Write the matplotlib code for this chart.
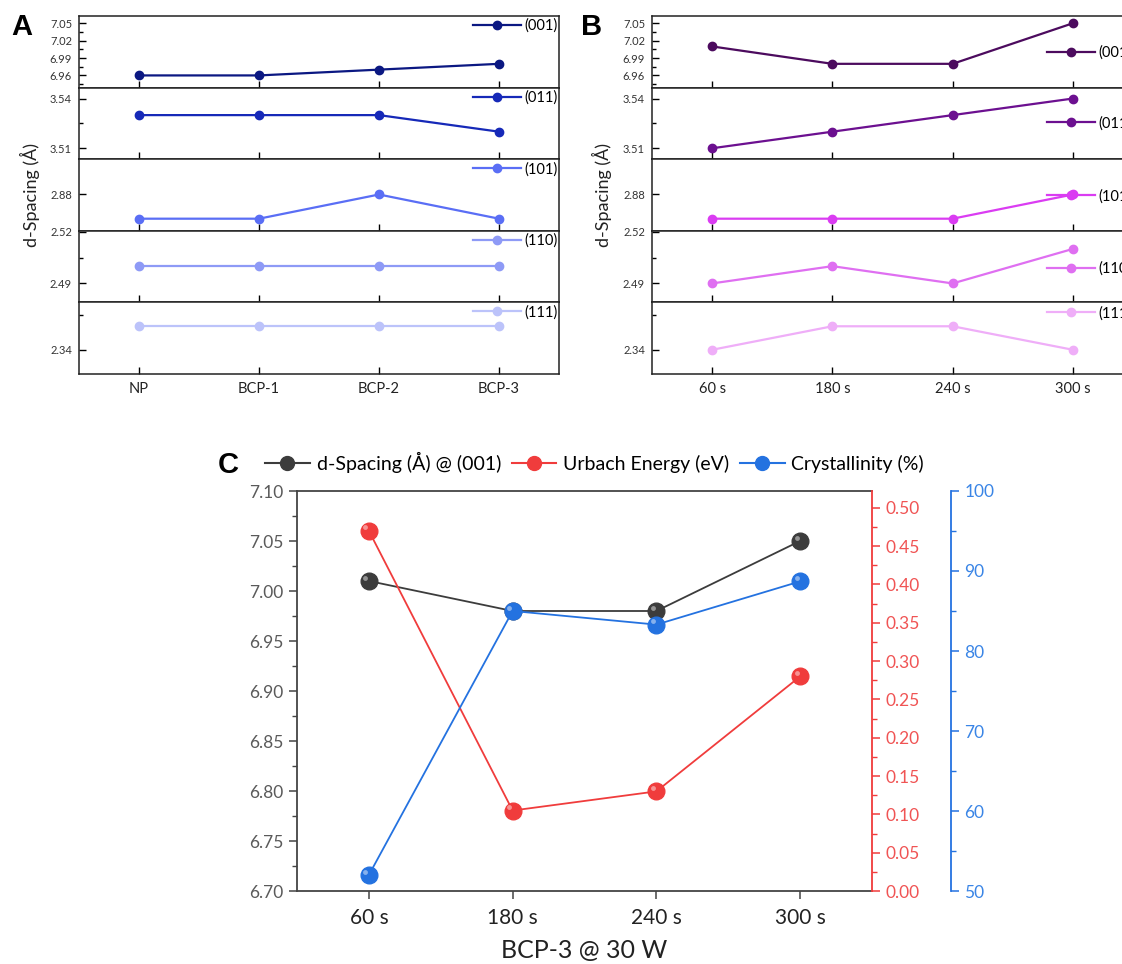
import matplotlib
matplotlib.use("Agg")
import matplotlib.pyplot as plt
from matplotlib.lines import Line2D
from matplotlib.ticker import FixedLocator, NullFormatter
from matplotlib.transforms import ScaledTranslation

plt.rcParams['font.family'] = ['Lato', 'DejaVu Sans']

W, H = 1122, 964

# ---- data -------------------------------------------------------------
planes = ['(001)', '(011)', '(101)', '(110)', '(111)']

samples = ['NP', 'BCP-1', 'BCP-2', 'BCP-3']
d001_np = [6.96, 6.96, 6.97, 6.98]
d011_np = [3.53, 3.53, 3.53, 3.52]
d101_np = [2.64, 2.64, 2.88, 2.64]
d110_np = [2.50, 2.50, 2.50, 2.50]
d111_np = [2.36, 2.36, 2.36, 2.36]

times = ['60 s', '180 s', '240 s', '300 s']
d001_t = [7.01, 6.98, 6.98, 7.05]
d011_t = [3.51, 3.52, 3.53, 3.54]
d101_t = [2.64, 2.64, 2.64, 2.88]
d110_t = [2.49, 2.50, 2.49, 2.51]
d111_t = [2.34, 2.36, 2.36, 2.34]

urbach = [0.47, 0.105, 0.13, 0.28]
crystallinity = [52.0, 85.0, 83.3, 88.7]

# per-plane axis settings for the stacked panels
plane_ylim = [(6.939, 7.0625), (3.5034, 3.5466), (2.52, 3.23), (2.479, 2.5205), (2.3194, 2.3803)]
plane_major = [[6.96, 6.99, 7.02, 7.05], [3.51, 3.54], [2.88], [2.49, 2.52], [2.34]]
plane_minor = [[6.945, 6.975, 7.005, 7.035], [3.525], [], [2.505], [2.37]]

blues = ['#0b1882', '#1629b8', '#5a6ef5', '#8e9af6', '#bcc3fa']
purples = ['#4c0b5e', '#6c1090', '#da3cf2', '#df6ff1', '#efaef8']


def box(left, top, right, bottom):
    return [left / W, 1 - bottom / H, (right - left) / W, (bottom - top) / H]


fig = plt.figure(figsize=(W / 100, H / 100), dpi=100)


def stacked_panel(x0, x1, cats, series, colors, leg_y, letter, lx):
    top, bottom = 16, 374
    step = (bottom - top) / 5
    axes = []
    for i, (vals, col) in enumerate(zip(series, colors)):
        ax = fig.add_axes(box(x0, top + i * step, x1, top + (i + 1) * step))
        ax.plot(range(4), vals, '-o', color=col, lw=1.6, ms=6, label=planes[i])
        ax.set_xlim(-0.5, 3.5)
        ax.set_ylim(*plane_ylim[i])
        ax.yaxis.set_major_locator(FixedLocator(plane_major[i]))
        ax.yaxis.set_minor_locator(FixedLocator(plane_minor[i]))
        ax.set_yticklabels([f'{v:.2f}' for v in plane_major[i]])
        ax.set_xticks(range(4))
        ax.tick_params(direction='in', length=5, width=1, labelsize=8,
                       labelcolor='#333333', pad=5)
        ax.tick_params(which='minor', direction='in', length=3, width=1)
        for s in ax.spines.values():
            s.set_linewidth(1.1)
            s.set_color('#222222')
        if i < 4:
            ax.xaxis.set_major_formatter(NullFormatter())
        else:
            ax.set_xticklabels(cats, fontsize=10.5, color='#222222')
            ax.tick_params(axis='x', pad=6)
        ax.legend(loc='center right', bbox_to_anchor=(1.0, leg_y[i]), frameon=False,
                  fontsize=10.5, handlelength=3.3, handletextpad=0.25,
                  borderpad=0.1, borderaxespad=0.0)
        axes.append(ax)
    fig.text(lx[0] / W, 1 - (top + bottom) / 2 / H, 'd-Spacing (Å)', rotation=90,
             ha='center', va='center', fontsize=13, color='#222222')
    fig.text(lx[1] / W, 1 - 27 / H, letter, ha='center', va='center',
             fontsize=21, fontweight='bold', family='Liberation Sans')
    return axes


stacked_panel(79, 559, samples, [d001_np, d011_np, d101_np, d110_np, d111_np],
              blues, [0.86] * 5, 'A', (30, 22))
stacked_panel(652, 1133, times, [d001_t, d011_t, d101_t, d110_t, d111_t],
              purples, [0.49, 0.50, 0.48, 0.47, 0.85], 'B', (602, 592))

# ---- panel C -----------------------------------------------------------
gray, red, blue = '#3c3c3c', '#f03c3c', '#2472e0'

axc = fig.add_axes(box(297, 491, 872, 891))
axr = axc.twinx()
axb = axc.twinx()
axb.spines['right'].set_position(('outward', 57))

x = range(4)


def balls(ax, vals, col, z):
    ax.plot(x, vals, '-', color=col, lw=1.3, zorder=z)
    ax.plot(x, vals, 'o', color=col, ms=12, mec=col, zorder=z + 0.1)
    shine = ax.transData + ScaledTranslation(-2.5 / 72, 2.5 / 72, fig.dpi_scale_trans)
    ax.plot(x, vals, 'o', color='white', alpha=0.45, ms=3.5, mew=0,
            transform=shine, zorder=z + 0.2)


balls(axc, d001_t, gray, 3)
balls(axr, urbach, red, 3)
balls(axb, crystallinity, blue, 3)

axc.set_xlim(-0.5, 3.5)
axc.set_ylim(6.70, 7.10)
axr.set_ylim(0.0, 0.522)
axb.set_ylim(50, 100)

axc.set_xticks(list(x))
axc.set_xticklabels(times, fontsize=15, color='#222222')
axc.set_xlabel('BCP-3 @ 30 W', fontsize=18, color='#222222', labelpad=8)
axc.set_yticks([6.70 + 0.05 * i for i in range(9)])
axc.set_yticklabels([f'{6.70 + 0.05 * i:.2f}' for i in range(9)])
axc.yaxis.set_minor_locator(FixedLocator([6.725 + 0.05 * i for i in range(8)]))
axc.tick_params(axis='both', direction='out', length=6, width=1.1,
                labelsize=12.5, labelcolor='#5a5a5a', color='#444444')
axc.tick_params(axis='x', labelsize=15, labelcolor='#222222', pad=6)
axc.tick_params(which='minor', direction='out', length=3.5, width=1, color='#444444')
for name in ['left', 'bottom', 'top']:
    axc.spines[name].set_color('#444444')
    axc.spines[name].set_linewidth(1.3)
axc.spines['right'].set_visible(False)

axr.set_yticks([0.05 * i for i in range(11)])
axr.set_yticklabels([f'{0.05 * i:.2f}' for i in range(11)])
axr.yaxis.set_minor_locator(FixedLocator([0.025 + 0.05 * i for i in range(10)]))
axr.tick_params(axis='y', direction='out', length=6, width=1.1, color=red,
                labelsize=12.5, labelcolor='#f05454')
axr.tick_params(which='minor', direction='out', length=3.5, width=1, color=red)
axr.spines['right'].set_color(red)
axr.spines['right'].set_linewidth(1.3)
for name in ['left', 'bottom', 'top']:
    axr.spines[name].set_visible(False)

axb.set_yticks([50, 60, 70, 80, 90, 100])
axb.yaxis.set_minor_locator(FixedLocator([55, 65, 75, 85, 95]))
axb.tick_params(axis='y', direction='out', length=6, width=1.1, color=blue,
                labelsize=12.5, labelcolor='#3a85e6')
axb.tick_params(which='minor', direction='out', length=3.5, width=1, color=blue)
axb.spines['right'].set_color(blue)
axb.spines['right'].set_linewidth(1.3)
for name in ['left', 'bottom', 'top']:
    axb.spines[name].set_visible(False)

handles = [Line2D([], [], color=c, lw=1.5, marker='o', ms=10)
           for c in (gray, red, blue)]
fig.legend(handles, ['d-Spacing (Å) @ (001)', 'Urbach Energy (eV)', 'Crystallinity (%)'],
           loc='center left', bbox_to_anchor=(265 / W, 1 - 462 / H), ncol=3,
           frameon=False, fontsize=14, handlelength=2.3, handletextpad=0.35,
           columnspacing=0.55, borderpad=0.0, borderaxespad=0.0)
fig.text(228 / W, 1 - 465 / H, 'C', ha='center', va='center',
         fontsize=21, fontweight='bold', family='Liberation Sans')

fig.savefig('out.png', dpi=100)
